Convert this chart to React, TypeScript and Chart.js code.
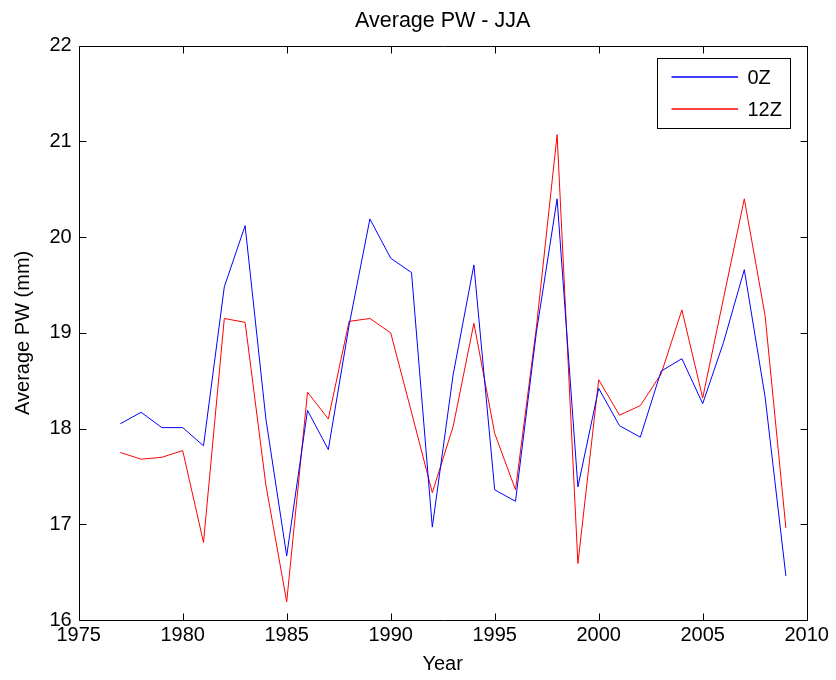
import React, { useEffect, useRef } from "react";
import { Chart, registerables } from "chart.js";

Chart.register(...registerables);

const years = [
  1977, 1978, 1979, 1980, 1981, 1982, 1983, 1984, 1985, 1986, 1987, 1988, 1989,
  1990, 1991, 1992, 1993, 1994, 1995, 1996, 1997, 1998, 1999, 2000, 2001, 2002,
  2003, 2004, 2005, 2006, 2007, 2008, 2009,
];

const pw0Z = [
  18.05, 18.17, 18.01, 18.01, 17.82, 19.48, 20.12, 18.1, 16.67, 18.19, 17.78,
  19.08, 20.19, 19.78, 19.63, 16.97, 18.56, 19.71, 17.36, 17.24, 19.0, 20.4,
  17.39, 18.42, 18.03, 17.91, 18.6, 18.73, 18.26, 18.9, 19.66, 18.33, 16.46,
];

const pw12Z = [
  17.75, 17.68, 17.7, 17.77, 16.81, 19.15, 19.11, 17.41, 16.19, 18.38, 18.1,
  19.12, 19.15, 19.0, 18.17, 17.33, 18.02, 19.1, 17.95, 17.36, 19.05, 21.07,
  16.59, 18.51, 18.14, 18.24, 18.57, 19.24, 18.32, 19.36, 20.4, 19.18, 16.96,
];

const seriesLabels = ["0Z", "12Z"];
const seriesColors = ["#0000ff", "#ff0000"];
const titleText = "Average PW - JJA";
const xTitle = "Year";
const yTitle = "Average PW (mm)";
const xTicks = [1975, 1980, 1985, 1990, 1995, 2000, 2005, 2010];
const yTicks = [16, 17, 18, 19, 20, 21, 22];

const FONT = "'Liberation Sans', Arial, Helvetica, sans-serif";
const FS = 20;
const TITLE_FS = 21.5;

const framePlugin = {
  id: "frame",
  afterDatasetsDraw(chart: any) {
    const { ctx, chartArea } = chart;
    const { left, right, top, bottom } = chartArea;
    const xs = chart.scales.x;
    const ys = chart.scales.y;
    const L = Math.round(left) + 0.5;
    const R = Math.round(right) + 0.5;
    const T = Math.round(top) + 0.5;
    const B = Math.round(bottom) + 0.5;
    ctx.save();
    ctx.strokeStyle = "#000";
    ctx.lineWidth = 1;
    ctx.beginPath();
    ctx.rect(L, T, R - L, B - T);
    ctx.stroke();
    const tl = 7;
    ctx.beginPath();
    xs.ticks.forEach((t: any) => {
      const px = Math.round(xs.getPixelForValue(t.value)) + 0.5;
      ctx.moveTo(px, B);
      ctx.lineTo(px, B - tl);
      ctx.moveTo(px, T);
      ctx.lineTo(px, T + tl);
    });
    ys.ticks.forEach((t: any) => {
      const py = Math.round(ys.getPixelForValue(t.value)) + 0.5;
      ctx.moveTo(L, py);
      ctx.lineTo(L + tl, py);
      ctx.moveTo(R, py);
      ctx.lineTo(R - tl, py);
    });
    ctx.stroke();

    // title centred over the plot area
    ctx.fillStyle = "#000";
    ctx.font = `${TITLE_FS}px ${FONT}`;
    ctx.textAlign = "center";
    ctx.textBaseline = "middle";
    ctx.fillText(titleText, (left + right) / 2, top - 25);

    // legend
    const bx1 = Math.round(right - 16.7) + 0.5;
    const bx0 = Math.round(right - 149.4) + 0.5;
    const by0 = Math.round(top + 12) + 0.5;
    const by1 = Math.round(top + 82.6) + 0.5;
    ctx.fillStyle = "#fff";
    ctx.fillRect(bx0, by0, bx1 - bx0, by1 - by0);
    ctx.strokeStyle = "#000";
    ctx.strokeRect(bx0, by0, bx1 - bx0, by1 - by0);
    ctx.font = `${FS}px ${FONT}`;
    ctx.textBaseline = "middle";
    ctx.textAlign = "left";
    chart.data.datasets.forEach((ds: any, i: number) => {
      const ly = Math.round(by0 + 18.3 + i * 32.3);
      ctx.strokeStyle = seriesColors[i];
      ctx.lineWidth = 1.4;
      ctx.beginPath();
      ctx.moveTo(bx0 + 14, ly);
      ctx.lineTo(bx0 + 80.5, ly);
      ctx.stroke();
      ctx.fillStyle = "#000";
      ctx.fillText(ds.label, bx0 + 90, ly + 1);
    });
    ctx.restore();
  },
};

export default function App() {
  const ref = useRef<HTMLCanvasElement | null>(null);
  useEffect(() => {
    if (!ref.current) return;
    const datasets = [pw0Z, pw12Z].map((vals, i) => ({
      label: seriesLabels[i],
      data: years.map((yr, j) => ({ x: yr, y: vals[j] })),
      borderColor: seriesColors[i],
      backgroundColor: seriesColors[i],
      borderWidth: 1,
      pointRadius: 0,
      tension: 0,
      fill: false,
    }));
    const chart = new Chart(ref.current, {
      type: "line",
      data: { datasets },
      plugins: [framePlugin],
      options: {
        animation: false,
        responsive: false,
        maintainAspectRatio: false,
        layout: { padding: { left: 0, right: 29.3, top: 45.7, bottom: 0 } },
        plugins: {
          legend: { display: false },
          tooltip: { enabled: false },
          title: { display: false },
        },
        scales: {
          x: {
            type: "linear",
            min: 1975,
            max: 2010,
            afterBuildTicks: (s: any) => {
              s.ticks = xTicks.map((v) => ({ value: v }));
            },
            afterFit: (s: any) => {
              s.height = 60;
            },
            ticks: {
              color: "#000",
              font: { family: FONT, size: FS },
              padding: 3,
              maxRotation: 0,
              autoSkip: false,
              callback: (v: any) => String(v),
            },
            grid: { display: true, drawOnChartArea: false, drawTicks: false },
            border: { display: false },
            title: {
              display: true,
              text: xTitle,
              color: "#000",
              font: { family: FONT, size: FS },
              padding: { top: 0, bottom: 4 },
            },
          },
          y: {
            type: "linear",
            min: 16,
            max: 22,
            afterBuildTicks: (s: any) => {
              s.ticks = yTicks.map((v) => ({ value: v }));
            },
            afterFit: (s: any) => {
              s.width = 78.7;
            },
            ticks: {
              color: "#000",
              font: { family: FONT, size: FS },
              padding: 7,
              autoSkip: false,
              callback: (v: any) => String(v),
            },
            grid: { display: true, drawOnChartArea: false, drawTicks: false },
            border: { display: false },
            title: {
              display: true,
              text: yTitle,
              color: "#000",
              font: { family: FONT, size: FS },
              padding: { top: 11, bottom: 0 },
            },
          },
        },
      },
    } as any);
    return () => chart.destroy();
  }, []);
  return (
    <div style={{ position: "fixed", left: 0, top: 0, width: 836, height: 680, background: "#fff" }}>
      <canvas ref={ref} width={836} height={680} style={{ display: "block" }} />
    </div>
  );
}
